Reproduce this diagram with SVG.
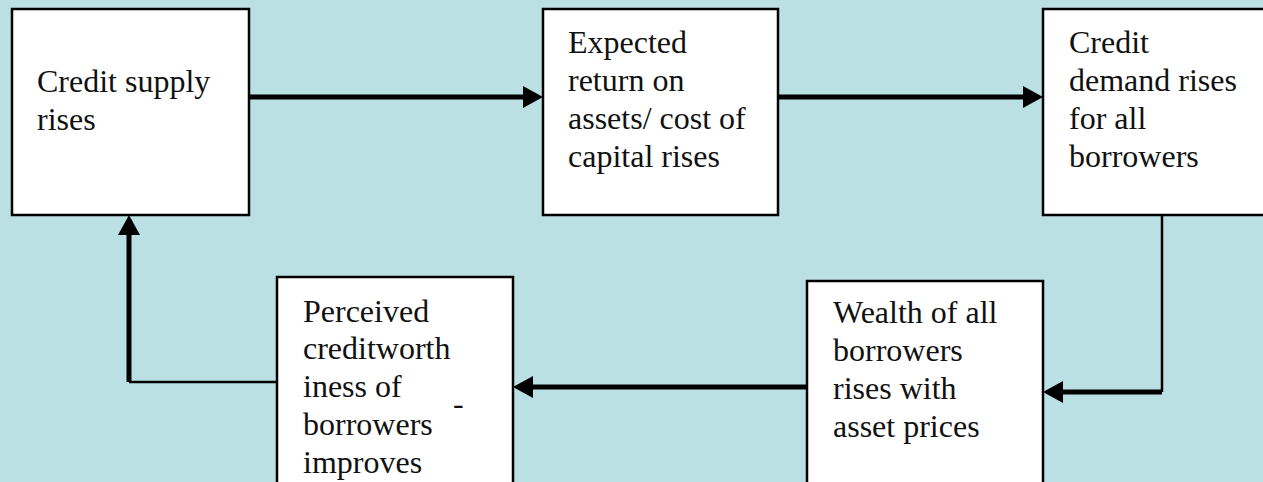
<svg xmlns="http://www.w3.org/2000/svg" width="1263" height="482" viewBox="0 0 1263 482">
<style>
.box{fill:#ffffff;stroke:#000000;stroke-width:2.5}
text{font-family:'Liberation Serif','Times New Roman',Times,'DejaVu Serif',serif;font-size:32px;fill:#111111}
.thick{fill:none;stroke:#000000;stroke-width:5}
.thin{fill:none;stroke:#000000;stroke-width:2.5}
</style>
<defs>
<marker id="ah" markerUnits="userSpaceOnUse" markerWidth="22" markerHeight="22" refX="0" refY="11" orient="auto" overflow="visible">
<path d="M0,0 L20,11 L0,22 Z" fill="#000000"/>
</marker>
</defs>
<rect x="0" y="0" width="1263" height="482" fill="#bbe0e3"/>
<g id="connectors">
<path class="thick" d="M249,97 H523" marker-end="url(#ah)"/>
<path class="thick" d="M778,97 H1023" marker-end="url(#ah)"/>
<path class="thin" d="M1162,215 V392"/>
<path class="thick" d="M1162,392 H1063" marker-end="url(#ah)"/>
<path class="thick" d="M807,387 H533" marker-end="url(#ah)"/>
<path class="thin" d="M277,382 H129"/>
<path class="thick" d="M129,382 V235" marker-end="url(#ah)"/>
</g>
<g id="credit-supply">
<rect class="box" x="12" y="9" width="237" height="206"/>
<text x="37" y="92" font-family="Liberation Serif, serif">Credit supply</text>
<text x="37" y="130" font-family="Liberation Serif, serif">rises</text>
</g>
<g id="expected-return">
<rect class="box" x="543" y="9" width="235" height="206"/>
<text x="568" y="53">Expected</text>
<text x="568" y="91">return on</text>
<text x="568" y="129">assets/ cost of</text>
<text x="568" y="167">capital rises</text>
</g>
<g id="credit-demand">
<rect class="box" x="1043" y="9" width="236" height="206"/>
<text x="1069" y="53">Credit</text>
<text x="1069" y="91">demand rises</text>
<text x="1069" y="129">for all</text>
<text x="1069" y="167">borrowers</text>
</g>
<g id="wealth">
<rect class="box" x="807" y="281" width="236" height="210"/>
<text x="833" y="323">Wealth of all</text>
<text x="833" y="361">borrowers</text>
<text x="833" y="399">rises with</text>
<text x="833" y="437">asset prices</text>
</g>
<g id="creditworthiness">
<rect class="box" x="277" y="277" width="236" height="214"/>
<text x="303" y="322">Perceived</text>
<text x="303" y="359">creditworth</text>
<text x="303" y="397">iness of</text>
<text x="303" y="435">borrowers</text>
<text x="303" y="473">improves</text>
<text x="453" y="414">-</text>
</g>
</svg>
